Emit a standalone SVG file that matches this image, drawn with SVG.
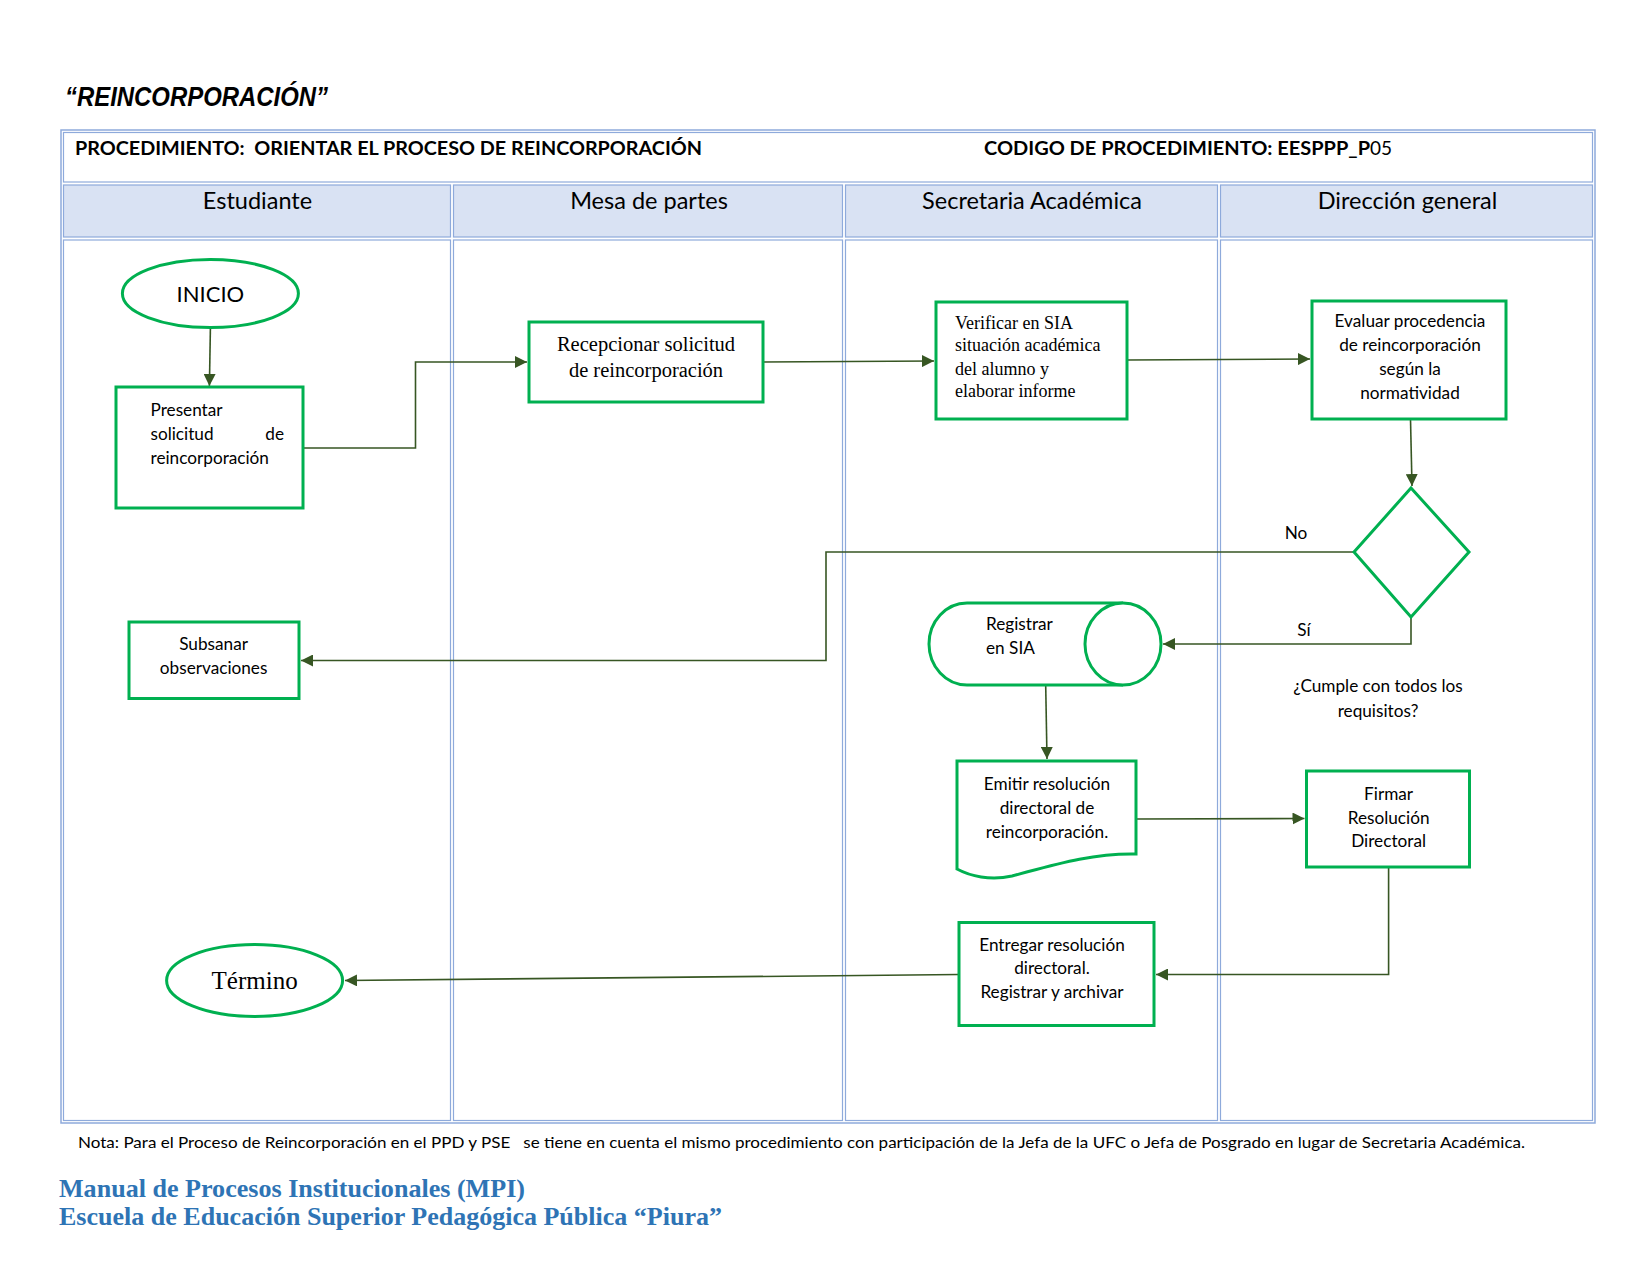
<svg xmlns="http://www.w3.org/2000/svg" width="1650" height="1275" viewBox="0 0 1650 1275">
<defs>
<marker id="arr" markerUnits="userSpaceOnUse" markerWidth="12" markerHeight="12" refX="12" refY="6" orient="auto">
<path d="M0,0 L12,6 L0,12 z" fill="#375623"/>
</marker>
<style>
.cell{fill:#ffffff;stroke:#8eaadb;stroke-width:1.2}
.hcell{fill:#d9e2f3;stroke:#8eaadb;stroke-width:1.2}
.node{fill:#ffffff;stroke:#00b050;stroke-width:3}
.con{fill:none;stroke:#375623;stroke-width:1.6}
.cal{font-family:Lato,'Open Sans','Noto Sans',sans-serif;fill:#000}
.tim{font-family:'Liberation Serif','Times New Roman',serif;fill:#000}
.lane{font-size:23.5px;text-anchor:middle}
.body{font-size:17.2px}
.mid{text-anchor:middle}
.foot{font-family:'Liberation Serif',serif;fill:#2e74b5;font-size:25px;font-weight:bold}
</style>
</defs>
<rect width="1650" height="1275" fill="#ffffff"/>

<text x="65" y="106" font-family="'Liberation Sans',Arial,sans-serif" font-weight="bold" font-style="italic" font-size="27" textLength="263" lengthAdjust="spacingAndGlyphs">“REINCORPORACIÓN”</text>

<g id="table">
<rect x="61" y="130" width="1534" height="993" fill="none" stroke="#8eaadb" stroke-width="1.5"/>
<rect class="cell" x="63.5" y="132.5" width="1529" height="49.5"/>
<rect class="hcell" x="63.5" y="185" width="387" height="52"/>
<rect class="hcell" x="453.5" y="185" width="389" height="52"/>
<rect class="hcell" x="845.5" y="185" width="372" height="52"/>
<rect class="hcell" x="1220.5" y="185" width="372" height="52"/>
<rect class="cell" x="63.5" y="240" width="387" height="880.5"/>
<rect class="cell" x="453.5" y="240" width="389" height="880.5"/>
<rect class="cell" x="845.5" y="240" width="372" height="880.5"/>
<rect class="cell" x="1220.5" y="240" width="372" height="880.5"/>
<text class="cal" x="75" y="155" font-size="19" font-weight="bold" textLength="627" lengthAdjust="spacingAndGlyphs" xml:space="preserve">PROCEDIMIENTO:  ORIENTAR EL PROCESO DE REINCORPORACIÓN</text>
<text class="cal" x="984" y="155" font-size="19" font-weight="bold" textLength="386" lengthAdjust="spacingAndGlyphs">CODIGO DE PROCEDIMIENTO: EESPPP_P</text>
<text class="cal" x="1370" y="155" font-size="19">05</text>
<text class="cal lane" x="257.5" y="209">Estudiante</text>
<text class="cal lane" x="649" y="209">Mesa de partes</text>
<text class="cal lane" x="1032" y="209">Secretaria Académica</text>
<text class="cal lane" x="1407.5" y="209">Dirección general</text>
</g>

<g id="connectors">
<path class="con" d="M210.4,328 L209.4,386" marker-end="url(#arr)"/>
<path class="con" d="M303,448 H415.5 V362 H527" marker-end="url(#arr)"/>
<path class="con" d="M763,362 L934,361" marker-end="url(#arr)"/>
<path class="con" d="M1127,360 L1310,359" marker-end="url(#arr)"/>
<path class="con" d="M1410.5,419 L1412,486" marker-end="url(#arr)"/>
<path class="con" d="M1354,552 H826 V660.5 H301" marker-end="url(#arr)"/>
<path class="con" d="M1411,617 V644 H1163" marker-end="url(#arr)"/>
<path class="con" d="M1045.7,685 L1047,759" marker-end="url(#arr)"/>
<path class="con" d="M1136,819 L1304.5,818.5" marker-end="url(#arr)"/>
<path class="con" d="M1388.6,867 V974.5 H1156" marker-end="url(#arr)"/>
<path class="con" d="M959,974.5 L345,980.5" marker-end="url(#arr)"/>
<text class="cal body mid" x="1296" y="539">No</text>
<text class="cal body mid" x="1304" y="636">Sí</text>
</g>

<g id="inicio">
<ellipse class="node" cx="210.4" cy="293.5" rx="88" ry="34"/>
<text class="cal mid" x="210.4" y="301.5" font-size="22">INICIO</text>
</g>

<g id="presentar">
<rect class="node" x="116" y="387" width="187" height="121"/>
<text class="cal body" x="150.5" y="415.5">Presentar</text>
<text class="cal body" x="150.5" y="440">solicitud</text>
<text class="cal body" x="284" y="440" text-anchor="end">de</text>
<text class="cal body" x="150.5" y="464">reincorporación</text>
</g>

<g id="recepcionar">
<rect class="node" x="529" y="322" width="234" height="80"/>
<text class="tim mid" x="646" y="351" font-size="20.5">Recepcionar solicitud</text>
<text class="tim mid" x="646" y="377" font-size="20.5">de reincorporación</text>
</g>

<g id="verificar">
<rect class="node" x="936" y="302" width="191" height="117"/>
<text class="tim" x="955" y="329" font-size="18">Verificar en SIA</text>
<text class="tim" x="955" y="351" font-size="18">situación académica</text>
<text class="tim" x="955" y="374.5" font-size="18">del alumno y</text>
<text class="tim" x="955" y="397" font-size="18">elaborar informe</text>
</g>

<g id="evaluar">
<rect class="node" x="1312" y="301" width="194" height="118"/>
<text class="cal body mid" x="1410" y="327">Evaluar procedencia</text>
<text class="cal body mid" x="1410" y="351">de reincorporación</text>
<text class="cal body mid" x="1410" y="374.5">según la</text>
<text class="cal body mid" x="1410" y="399">normatividad</text>
</g>

<g id="decision">
<polygon class="node" points="1411,488 1469,552 1411,617 1354,552"/>
<text class="cal body mid" x="1378" y="692">¿Cumple con todos los</text>
<text class="cal body mid" x="1378" y="716.5">requisitos?</text>
</g>

<g id="subsanar">
<rect class="node" x="129" y="622" width="170" height="76.5"/>
<text class="cal body mid" x="213.6" y="650">Subsanar</text>
<text class="cal body mid" x="213.6" y="674">observaciones</text>
</g>

<g id="registrar">
<path class="node" d="M1123,603 H967 A38,41 0 0 0 967,685 H1123"/>
<ellipse class="node" cx="1123" cy="644" rx="38" ry="41"/>
<text class="cal body" x="986" y="630">Registrar</text>
<text class="cal body" x="986" y="654">en SIA</text>
</g>

<g id="emitir">
<path class="node" d="M957,761 H1136 V854 C1090,853 1050,866 1012,876 C990,881 970,876 957,869 Z"/>
<text class="cal body mid" x="1047" y="790">Emitir resolución</text>
<text class="cal body mid" x="1047" y="814">directoral de</text>
<text class="cal body mid" x="1047" y="837.5">reincorporación.</text>
</g>

<g id="firmar">
<rect class="node" x="1306.5" y="771" width="163" height="96"/>
<text class="cal body mid" x="1388.6" y="799.5">Firmar</text>
<text class="cal body mid" x="1388.6" y="823.5">Resolución</text>
<text class="cal body mid" x="1388.6" y="847">Directoral</text>
</g>

<g id="entregar">
<rect class="node" x="959" y="922.5" width="195" height="103"/>
<text class="cal body mid" x="1052" y="951">Entregar resolución</text>
<text class="cal body mid" x="1052" y="974">directoral.</text>
<text class="cal body mid" x="1052" y="998">Registrar y archivar</text>
</g>

<g id="termino">
<ellipse class="node" cx="254.6" cy="980.5" rx="88" ry="36"/>
<text class="tim mid" x="254.6" y="989" font-size="25">Término</text>
</g>

<text class="cal" x="78" y="1148" font-size="16" textLength="1447" lengthAdjust="spacingAndGlyphs" xml:space="preserve">Nota: Para el Proceso de Reincorporación en el PPD y PSE   se tiene en cuenta el mismo procedimiento con participación de la Jefa de la UFC o Jefa de Posgrado en lugar de Secretaria Académica.</text>
<text class="foot" x="59" y="1197" textLength="466" lengthAdjust="spacingAndGlyphs">Manual de Procesos Institucionales (MPI)</text>
<text class="foot" x="59" y="1224.5" textLength="663" lengthAdjust="spacingAndGlyphs">Escuela de Educación Superior Pedagógica Pública “Piura”</text>
</svg>
